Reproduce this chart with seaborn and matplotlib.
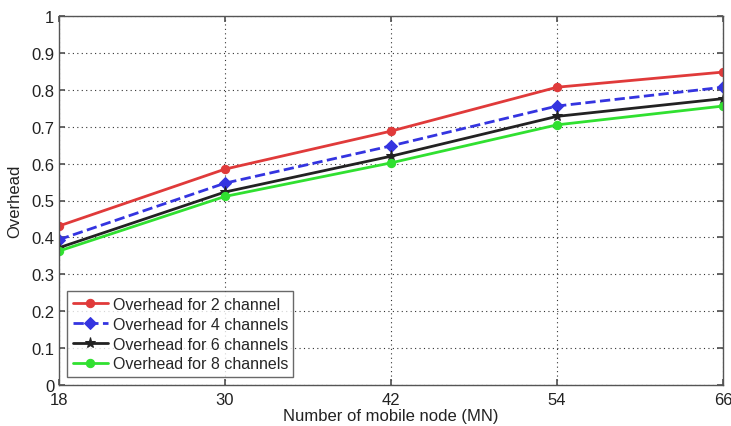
import matplotlib
matplotlib.use("Agg")
import matplotlib.pyplot as plt
import seaborn as sns
import pandas as pd

nodes = [18, 30, 42, 54, 66]
ch2 = [0.431, 0.585, 0.688, 0.807, 0.848]
ch4 = [0.394, 0.547, 0.648, 0.756, 0.807]
ch6 = [0.372, 0.523, 0.620, 0.728, 0.776]
ch8 = [0.363, 0.511, 0.602, 0.705, 0.756]
labels = ["Overhead for 2 channel", "Overhead for 4 channels",
          "Overhead for 6 channels", "Overhead for 8 channels"]

sns.set_theme(style="white")
plt.rcParams['font.family'] = ['Liberation Sans', 'DejaVu Sans']

fig = plt.figure(figsize=(7.31, 4.27), dpi=100)
ax = fig.add_axes([59/731, 1-386/427, (723-59)/731, (386-17)/427])

series = [ch2, ch4, ch6, ch8]
colors = ["#e03a3a", "#3434e0", "#222222", "#30e030"]
markers = ["o", "D", "*", "o"]
styles = ["-", "--", "-", "-"]
sizes = [6, 6, 8, 6]
for vals, lab, c, m, ls, ms in zip(series, labels, colors, markers, styles, sizes):
    df = pd.DataFrame({"x": nodes, "y": vals})
    sns.lineplot(data=df, x="x", y="y", ax=ax, color=c, marker=m, linestyle=ls,
                 linewidth=2, markersize=ms, markeredgecolor=c, label=lab)

ax.set_xlim(18, 66)
ax.set_ylim(0, 1)
ax.set_xticks(nodes)
ax.set_yticks([i / 10 for i in range(11)])
ax.set_yticklabels(["0", "0.1", "0.2", "0.3", "0.4", "0.5", "0.6", "0.7", "0.8", "0.9", "1"])
ax.grid(True, color="#333333", linestyle=(0, (1, 3)), linewidth=0.8)
for s in ax.spines.values():
    s.set_color("#555555")
    s.set_linewidth(1)
ax.tick_params(direction="in", length=4, color="#555555", labelsize=12, labelcolor="#222222",
               bottom=True, left=True, top=True, right=True)
ax.tick_params(axis="x", pad=5)
ax.set_xlabel("Number of mobile node (MN)", fontsize=12, color="#222222", labelpad=1)
ax.set_ylabel("Overhead", fontsize=12, color="#222222", labelpad=6)

leg = ax.legend(loc="lower left", fontsize=11.5, frameon=True, fancybox=False,
                borderaxespad=0.5, handlelength=2.2, handletextpad=0.3,
                labelspacing=0.3, borderpad=0.35)
leg.get_frame().set_edgecolor("#444444")
leg.get_frame().set_linewidth(1)

fig.savefig("out.png", dpi=100)
